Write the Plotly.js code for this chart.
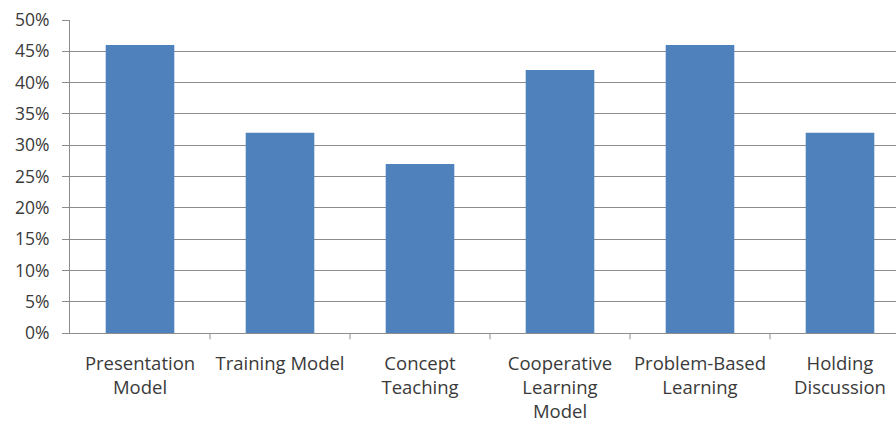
<!DOCTYPE html>
<html><head><meta charset="utf-8">
<script src="https://cdn.plot.ly/plotly-3.0.1.min.js"></script>
<style>html,body{margin:0;padding:0;background:#fff;}#chart{width:896px;height:426px;}</style>
</head><body><div id="chart"></div>
<script>
const categories = ["Presentation<br>Model", "Training Model", "Concept<br>Teaching", "Cooperative<br>Learning<br>Model", "Problem-Based<br>Learning", "Holding<br>Discussion"];
const values = [46, 32, 27, 42, 46, 32];
const yTickVals = [0, 5, 10, 15, 20, 25, 30, 35, 40, 45, 50];
const yTickText = ["0%", "5%", "10%", "15%", "20%", "25%", "30%", "35%", "40%", "45%", "50%"];

const trace = {
  type: 'bar',
  x: categories.map((c, i) => i),
  y: values,
  marker: {color: '#4f81bd'},
  width: 0.49,
  hoverinfo: 'none'
};
const layout = {
  width: 896, height: 426,
  margin: {l: 70, r: 0, t: 20, b: 93},
  paper_bgcolor: '#fff', plot_bgcolor: '#fff',
  showlegend: false,
  font: {family: 'Open Sans, sans-serif', size: 15, color: '#3a3a3a'},
  xaxis: {
    range: [-0.5, 5.4],
    tickmode: 'array',
    tickvals: categories.map((c, i) => i),
    ticktext: categories,
    showgrid: false,
    zeroline: false,
    showline: true, linecolor: '#8c8c8c', linewidth: 1,
    ticks: '',
    tickfont: {size: 18.5, color: '#3a3a3a'},
    ticklabelstandoff: 14,
    fixedrange: true
  },
  yaxis: {
    range: [0, 50],
    tickmode: 'array',
    tickvals: yTickVals,
    ticktext: yTickText,
    showgrid: true, gridcolor: '#8c8c8c', gridwidth: 1,
    zeroline: false,
    showline: true, linecolor: '#8c8c8c', linewidth: 1,
    ticks: 'outside', ticklen: 7, tickcolor: '#8c8c8c',
    tickfont: {size: 17.5, color: '#3a3a3a'},
    ticklabelstandoff: 9,
    fixedrange: true
  },
  shapes: [1,2,3,4,5].map(i => ({
    type: 'line', xref: 'x', yref: 'paper',
    x0: i - 0.5, x1: i - 0.5, y0: 0, y1: -0.02,
    line: {color: '#8c8c8c', width: 1}
  }))
};
Plotly.newPlot('chart', [trace], layout, {staticPlot: true});
</script>
</body></html>
